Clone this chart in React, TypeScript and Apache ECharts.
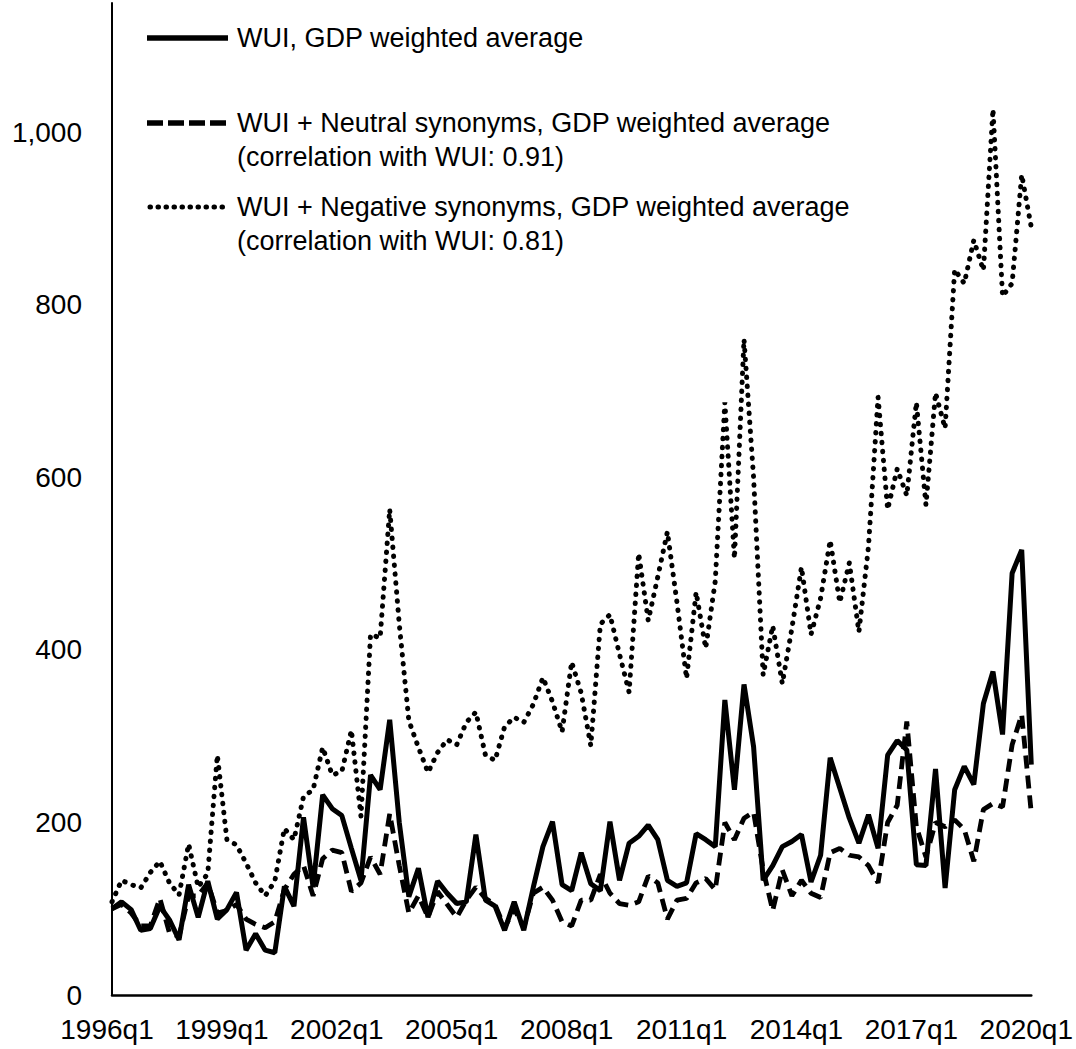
import React, { useEffect, useRef } from "react";
import * as echarts from "echarts";

// Quarterly categories 1996q1 .. 2020q1
const quarters: string[] = [];
for (let y = 1996; y <= 2020; y++) {
  for (let q = 1; q <= 4; q++) {
    if (y === 2020 && q > 1) break;
    quarters.push(`${y}q${q}`);
  }
}

// WUI, GDP weighted average
const wui = [
  100, 108, 99, 75, 77, 103, 87, 64, 128, 90,
  132, 88, 99, 119, 52, 71, 52, 49, 126, 103,
  206, 125, 232, 216, 208, 170, 133, 255, 238, 319,
  200, 114, 147, 90, 132, 118, 106, 108, 186, 110,
  103, 75, 108, 75, 125, 172, 201, 128, 121, 165,
  129, 121, 201, 133, 176, 184, 197, 180, 133, 126,
  130, 187, 180, 172, 342, 238, 360, 288, 133, 150,
  172, 178, 186, 131, 162, 275, 240, 205, 176, 209,
  170, 278, 295, 284, 151, 150, 262, 124, 238, 265,
  244, 338, 375, 302, 489, 516, 267,
];

// WUI + Neutral synonyms, GDP weighted average
const neutral = [
  100, 105, 95, 80, 80, 112, 72, 68, 115, 115,
  130, 95, 98, 105, 88, 82, 78, 85, 122, 140,
  150, 115, 158, 168, 165, 120, 130, 160, 140, 210,
  150, 95, 115, 90, 120, 105, 90, 110, 125, 112,
  105, 78, 100, 78, 118, 125, 110, 85, 80, 110,
  110, 140, 118, 106, 104, 108, 138, 130, 88, 110,
  112, 130, 135, 122, 200, 180, 205, 212, 145, 98,
  145, 115, 133, 118, 113, 165, 170, 162, 160, 150,
  130, 200, 220, 317, 195, 160, 200, 195, 203, 192,
  155, 215, 222, 218, 290, 325, 211,
];

// WUI + Negative synonyms, GDP weighted average
const negative = [
  108, 133, 128, 124, 142, 155, 130, 116, 175, 125,
  141, 278, 180, 174, 153, 130, 115, 132, 193, 180,
  230, 238, 287, 255, 259, 307, 207, 418, 414, 563,
  430, 318, 287, 258, 281, 296, 290, 316, 328, 278,
  272, 311, 322, 316, 337, 368, 340, 305, 386, 350,
  289, 430, 441, 395, 351, 512, 434, 485, 537, 455,
  367, 467, 402, 480, 687, 506, 760, 600, 371, 428,
  361, 425, 496, 418, 460, 527, 455, 501, 421, 520,
  693, 563, 610, 579, 687, 568, 698, 657, 841, 825,
  875, 840, 1027, 810, 825, 951, 890,
];

const legendLines: string[][] = [
  ["WUI, GDP weighted average"],
  ["WUI + Neutral synonyms, GDP weighted average", "(correlation with WUI: 0.91)"],
  ["WUI + Negative synonyms, GDP weighted average", "(correlation with WUI: 0.81)"],
];

const FONT = "'Liberation Sans', Arial, Helvetica, sans-serif";

export default function App() {
  const ref = useRef<HTMLDivElement>(null);

  useEffect(() => {
    if (!ref.current) return;
    const chart = echarts.init(ref.current, null, { renderer: "svg" });

    const legendY = [38, 123, 207];
    const legendStyles: any[] = [
      { lineWidth: 5.5 },
      { lineWidth: 5.5, lineDash: [16, 5] },
      { lineWidth: 5, lineDash: [0.5, 7.5], lineCap: "round" },
    ];
    const graphic: any[] = [];
    legendLines.forEach((lines, k) => {
      graphic.push({
        type: "line",
        shape: { x1: k === 2 ? 150 : 147, y1: legendY[k], x2: 228, y2: legendY[k] },
        style: { stroke: "#000", ...legendStyles[k] },
      });
      lines.forEach((t, j) => {
        graphic.push({
          type: "text",
          x: 237,
          y: legendY[k] + j * 34,
          style: {
            text: t,
            fill: "#000",
            fontSize: 27,
            fontFamily: FONT,
            align: "left",
            verticalAlign: "middle",
          },
        });
      });
    });

    chart.setOption({
      animation: false,
      backgroundColor: "#fff",
      textStyle: { fontFamily: FONT },
      grid: { left: 112, right: 43, top: 3, bottom: 54, containLabel: false },
      xAxis: {
        type: "category",
        data: quarters,
        boundaryGap: false,
        axisLine: { show: true, lineStyle: { color: "#000", width: 2.5 } },
        axisTick: { show: false },
        splitLine: { show: false },
        axisLabel: {
          interval: (i: number) => i % 12 === 0,
          color: "#000",
          fontSize: 28,
          fontFamily: FONT,
          margin: 20,
          padding: [0, 10, 0, 0],
        },
      },
      yAxis: {
        type: "value",
        min: 0,
        max: 1150,
        interval: 200,
        axisLine: { show: true, lineStyle: { color: "#000", width: 2 } },
        axisTick: { show: false },
        splitLine: { show: false },
        axisLabel: {
          color: "#000",
          fontSize: 28,
          fontFamily: FONT,
          margin: 30,
          showMaxLabel: false,
          formatter: (v: number) => v.toLocaleString("en-US"),
        },
      },
      graphic,
      series: [
        {
          name: "WUI + Negative synonyms, GDP weighted average",
          type: "line",
          data: negative,
          showSymbol: false,
          z: 2,
          lineStyle: { color: "#000", width: 5, type: [0.5, 8.5], cap: "round" },
        },
        {
          name: "WUI + Neutral synonyms, GDP weighted average",
          type: "line",
          data: neutral,
          showSymbol: false,
          z: 3,
          lineStyle: { color: "#000", width: 4.8, type: [13, 7] },
        },
        {
          name: "WUI, GDP weighted average",
          type: "line",
          data: wui,
          showSymbol: false,
          z: 4,
          lineStyle: { color: "#000", width: 5 },
        },
      ],
    });

    return () => chart.dispose();
  }, []);

  return (
    <div
      ref={ref}
      style={{ position: "absolute", left: 0, top: 0, width: 1076, height: 1049, background: "#fff" }}
    />
  );
}
